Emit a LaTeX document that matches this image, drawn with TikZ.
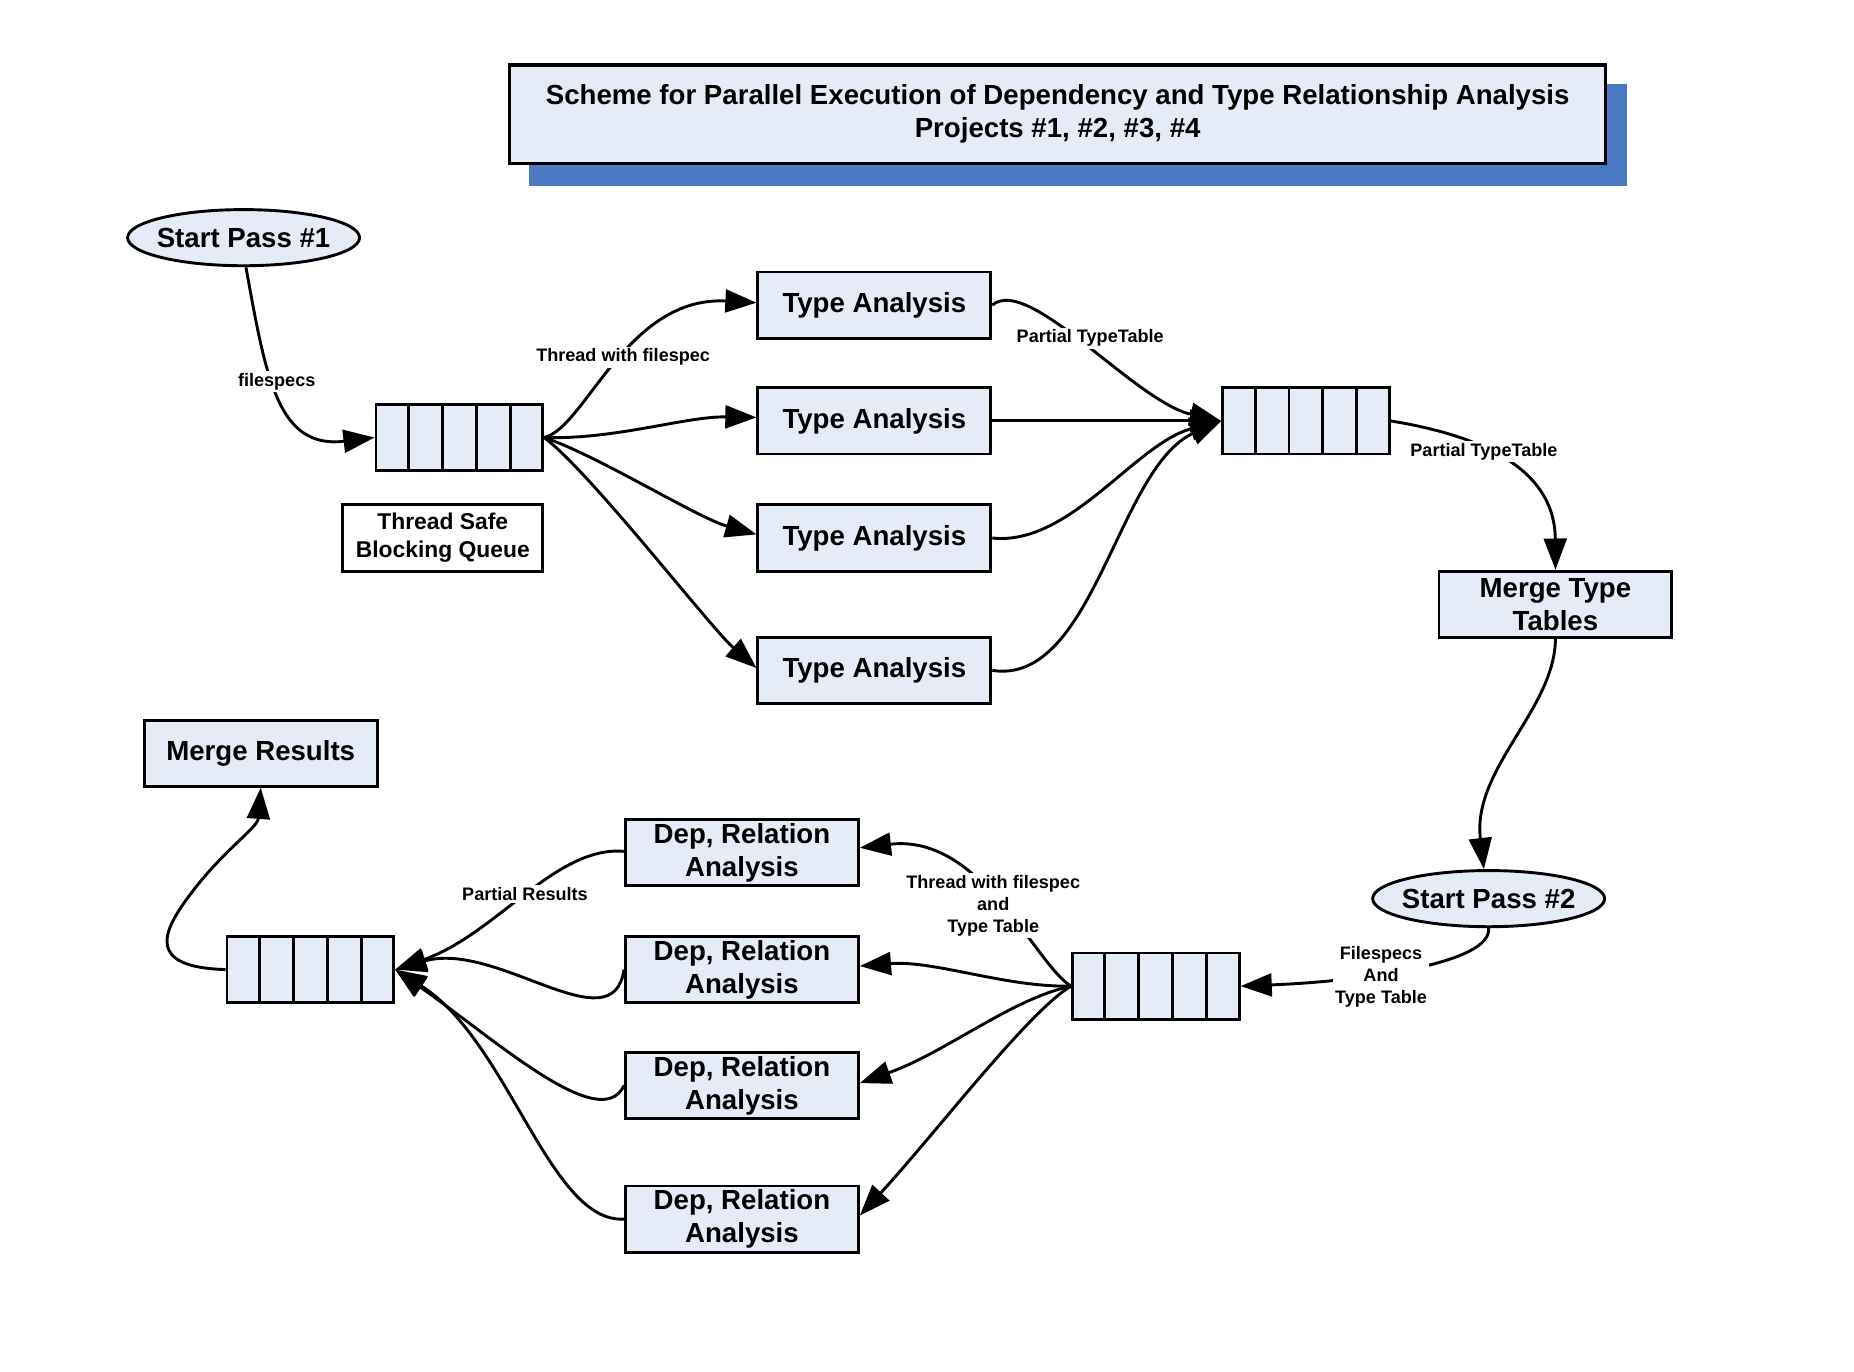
\documentclass[tikz,border=0pt]{standalone}
\usepackage{fontspec}
\setmainfont{Liberation Sans}
\usetikzlibrary{shapes.geometric,arrows.meta,calc}
\definecolor{boxfill}{HTML}{E6ECF7}
\definecolor{shadowblue}{HTML}{4A78C2}
\tikzset{
  every node/.style={font=\bfseries},
  mainfont/.style={font=\fontsize{13.3}{15.9}\selectfont\bfseries},
  smallfont/.style={font=\fontsize{8.7}{10.5}\selectfont\bfseries},
  procbox/.style={draw, line width=1.4pt, fill=boxfill, rectangle, minimum width=3.94cm, minimum height=1.12cm, inner sep=0pt, align=center, mainfont},
  queuebox/.style={draw, line width=1.4pt, fill=boxfill, rectangle, minimum width=2.82cm, minimum height=1.12cm, inner sep=0pt},
  startell/.style={draw, line width=1.4pt, fill=boxfill, ellipse, minimum width=3.92cm, minimum height=0.95cm, inner xsep=-2.3pt, inner ysep=0pt, mainfont},
  lbl/.style={fill=white, inner sep=1pt, align=center, smallfont},
  conn/.style={line width=1.4pt, -{Triangle[length=15pt,width=11pt]}},
}
\newcommand{\queuecells}[1]{%
  \foreach \k in {1,...,4}{\draw[line width=1.4pt] ($(#1.south west)!\k/5!(#1.south east)$) -- ($(#1.north west)!\k/5!(#1.north east)$);}}
\begin{document}
\begin{tikzpicture}[x=0.02cm,y=-0.02cm]
\useasboundingbox (0,0) rectangle (1568,1160);
% title
\fill[shadowblue] (447,71) rectangle (1376,157);
\node[draw, line width=1.6pt, fill=boxfill, minimum width=18.54cm, minimum height=1.66cm, inner sep=0pt, align=center, mainfont] (title) at (894.5,96.5) {Scheme for Parallel Execution of Dependency and Type Relationship Analysis\\Projects \#1, \#2, \#3, \#4};

% nodes
\node[startell] (sp1) at (206,201) {Start Pass \#1};
\node[queuebox] (q1) at (388.5,370) {};
\queuecells{q1}
\node[draw, line width=1.4pt, fill=white, minimum width=3.38cm, minimum height=1.12cm, inner sep=0pt, align=center, font=\fontsize{11}{13.6}\selectfont\bfseries] (tsq) at (374.5,455) {Thread Safe\\Blocking Queue};
\node[procbox] (ta1) at (739.5,258) {Type Analysis};
\node[procbox] (ta2) at (739.5,356) {Type Analysis};
\node[procbox] (ta3) at (739.5,455) {Type Analysis};
\node[procbox] (ta4) at (739.5,567) {Type Analysis};
\node[queuebox] (q2) at (1104.5,356) {};
\queuecells{q2}
\node[procbox] (mtt) at (1315.5,511) {Merge Type\\Tables};
\node[startell] (sp2) at (1259,760) {Start Pass \#2};
\node[queuebox] (q3) at (977.5,834) {};
\queuecells{q3}
\node[procbox] (dr1) at (627.5,721) {Dep, Relation\\Analysis};
\node[procbox] (dr2) at (627.5,820) {Dep, Relation\\Analysis};
\node[procbox] (dr3) at (627.5,918) {Dep, Relation\\Analysis};
\node[procbox] (dr4) at (627.5,1031) {Dep, Relation\\Analysis};
\node[queuebox] (q4) at (262.5,820) {};
\queuecells{q4}
\node[procbox] (mr) at (220.5,637) {Merge Results};

% connectors pass 1
\draw[conn] ($(sp1.south)+(2,0)$) .. controls (225,320) and (235,380) .. (q1.west);
\draw[conn] (q1.east) .. controls (495,362) and (530,250) .. ($(ta1.west)+(0,-2)$);
\draw[conn] (q1.east) .. controls (520,372) and (580,352) .. ($(ta2.west)+(0,-3)$);
\draw[conn] (q1.east) .. controls (505,385) and (590,438) .. ($(ta3.west)+(0,-3)$);
\draw[conn] (q1.east) .. controls (500,400) and (600,530) .. ($(ta4.west)+(0,-2)$);
\draw[conn] (ta1.east) .. controls (870,232) and (960,340) .. (q2.west);
\draw[conn] (ta2.east) -- (q2.west);
\draw[conn] (ta3.east) .. controls (905,462) and (960,375) .. (q2.west);
\draw[conn] (ta4.east) .. controls (925,580) and (945,395) .. (q2.west);
\draw[conn] (q2.east) .. controls (1250,368) and (1315,395) .. (mtt.north);
\draw[conn] (mtt.south) .. controls (1315,600) and (1245,650) .. ($(sp2.north)+(-4,0)$);
% pass 2
\draw[conn] (sp2.south) .. controls (1262,815) and (1150,830) .. (q3.east);
\draw[conn] (q3.west) .. controls (875,815) and (830,705) .. ($(dr1.east)+(0,-4)$);
\draw[conn] (q3.west) .. controls (850,835) and (790,812) .. ($(dr2.east)+(0,-3)$);
\draw[conn] (q3.west) .. controls (855,845) and (800,890) .. ($(dr3.east)+(0,-2)$);
\draw[conn] (q3.west) .. controls (870,855) and (790,960) .. ($(dr4.east)+(0,-3)$);
\draw[conn] ($(dr1.west)+(0,-1)$) .. controls (470,715) and (420,790) .. (q4.east);
\draw[conn] (dr2.west) .. controls (518,885) and (420,795) .. (q4.east);
\draw[conn] (dr3.west) .. controls (508,960) and (420,880) .. (q4.east);
\draw[conn] (dr4.west) .. controls (465,1035) and (430,880) .. (q4.east);
\draw[conn] (q4.west) .. controls (125,818) and (135,790) .. (162,755) .. controls (190,718) and (218,700) .. (mr.south);

% labels
\node[lbl] (l1) at (234,323) {filespecs};
\node[lbl] (l2) at (527,302) {Thread with filespec};
\node[lbl] (l3) at (922,286) {Partial TypeTable};
\node[lbl] (l4) at (1255,382) {Partial TypeTable};
\node[lbl] (l5) at (840,766) {Thread with filespec\\and\\Type Table};
\node[lbl] (l6) at (1168,826) {Filespecs\\And\\Type Table};
\node[lbl] (l7) at (444,756) {Partial Results};
\end{tikzpicture}
\end{document}
